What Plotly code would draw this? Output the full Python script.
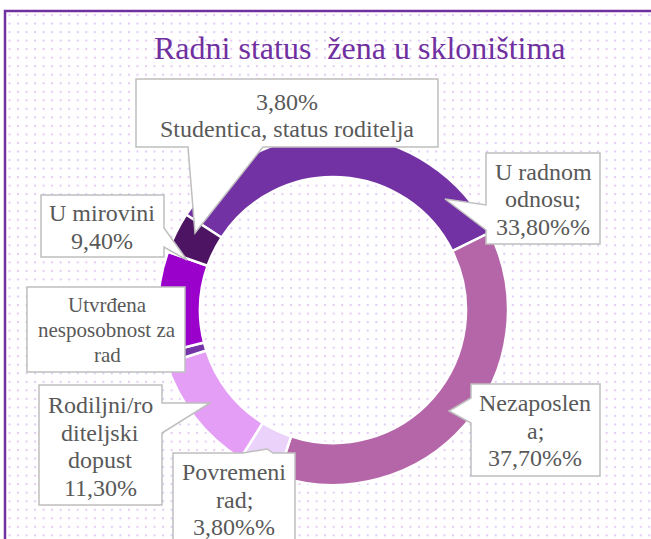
import base64
import plotly.graph_objects as go

# ---- data ----
labels = ["U radnom odnosu", "Nezaposlena", "Povremeni rad",
          "Rodiljni/roditeljski dopust", "Utvrđena nesposobnost za rad",
          "U mirovini", "Studentica, status roditelja"]
values = [33.8, 37.7, 3.8, 11.3, 1.0, 9.4, 3.8]
colors = ["#7232A4", "#B466A8", "#EAD2FA", "#E59EF6", "#7535A8", "#9A02CC", "#4C1463"]

def pct(v):
    return f"{v:.2f}".replace(".", ",") + "%"

callout_lines = [
    ["U radnom", "odnosu;", pct(values[0]) + "%"],
    ["Nezaposlen", "a;", pct(values[1]) + "%"],
    ["Povremeni", "rad;", pct(values[2]) + "%"],
    ["Rodiljni/ro", "diteljski", "dopust", pct(values[3])],
    ["Utvrđena", "nesposobnost za", "rad"],
    ["U mirovini", pct(values[5])],
    [pct(values[6]), "Studentica, status roditelja"],
]

W, H = 651, 539
def px(x): return x / W
def py(y): return 1 - y / H

# ---- layout geometry (pixels) ----
cx, cy, R = 333, 310, 175
# callout polygons (box + pointer), text centre x, first line y, line step, font size
callouts = [
    ([(486,153),(600,153),(600,244),(486,244),(486,230),(445,199),(486,205)], 543, 172, 27.5, 24),
    ([(471,384),(600,384),(600,476),(471,476),(471,423),(449,411),(471,398)], 535, 403, 27.5, 24),
    ([(173,453),(243,453),(267,449),(273,453),(295,453),(295,600),(173,600)], 234, 472, 27.5, 24),
    ([(39,385),(162,385),(162,403),(210,403),(162,433),(162,505),(39,505)], 100, 405, 27.5, 24),
    ([(27,287),(185,287),(185,372),(27,372)], 107, 305, 25, 21),
    ([(41,195),(164,195),(164,228),(187,260),(164,247),(164,257),(41,257)], 102, 213, 28, 24),
    ([(136,79),(438,79),(438,147),(263,147),(195,233),(188,147),(136,147)], 287, 102, 27, 24),
]

# dotted background
step = 8.53
svg = [f'<svg xmlns="http://www.w3.org/2000/svg" width="{W}" height="{H}">',
       f'<defs><pattern id="p" x="0" y="5.5" width="{step}" height="{step}" patternUnits="userSpaceOnUse">'
       '<rect x="0" y="0" width="2" height="2" fill="#E4CBF6"/></pattern></defs>',
       f'<rect x="6" y="12" width="{W}" height="{H}" fill="url(#p)"/></svg>']
bg = "data:image/svg+xml;base64," + base64.b64encode("".join(svg).encode()).decode()

fig = go.Figure(go.Pie(
    labels=labels, values=values, hole=0.76, sort=False, direction="clockwise",
    rotation=-57, textinfo="none", hoverinfo="label+percent",
    marker=dict(colors=colors, line=dict(color="white", width=2.5)),
    showlegend=False,
    domain=dict(x=[px(cx - R), px(cx + R)], y=[py(cy + R), py(cy - R)]),
))

shapes = [dict(type="rect", xref="paper", yref="paper",
               x0=px(5), y0=py(700), x1=px(760), y1=py(11),
               line=dict(color="#7030A0", width=2.5), fillcolor="rgba(0,0,0,0)", layer="below")]
annotations = []
for (poly, tx, ty0, dy, fs), lines in zip(callouts, callout_lines):
    path = "M " + " L ".join(f"{px(x):.5f},{py(y):.5f}" for x, y in poly) + " Z"
    shapes.append(dict(type="path", xref="paper", yref="paper", path=path,
                       fillcolor="white", line=dict(color="#BFBFBF", width=1.5), layer="above"))
    for i, line in enumerate(lines):
        annotations.append(dict(x=px(tx), y=py(ty0 + i * dy), xref="paper", yref="paper", text=line,
                                showarrow=False, xanchor="center", yanchor="middle", align="center",
                                font=dict(family="Liberation Serif", size=fs, color="#595959")))

annotations.append(dict(x=px(360), y=py(48), xref="paper", yref="paper",
                        text="Radni status\u00a0 žena u skloništima", showarrow=False,
                        xanchor="center", yanchor="middle",
                        font=dict(family="Liberation Serif", size=32, color="#7030A0")))

fig.update_layout(
    width=W, height=H, margin=dict(l=0, r=0, t=0, b=0),
    paper_bgcolor="white", plot_bgcolor="white",
    shapes=shapes, annotations=annotations,
    images=[dict(source=bg, xref="paper", yref="paper", x=0, y=1, sizex=1, sizey=1,
                 sizing="stretch", xanchor="left", yanchor="top", layer="below")],
)
fig.write_html("out.html", config={"displayModeBar": False},
               post_script="document.body.style.margin='0';document.body.style.overflow='hidden';")
